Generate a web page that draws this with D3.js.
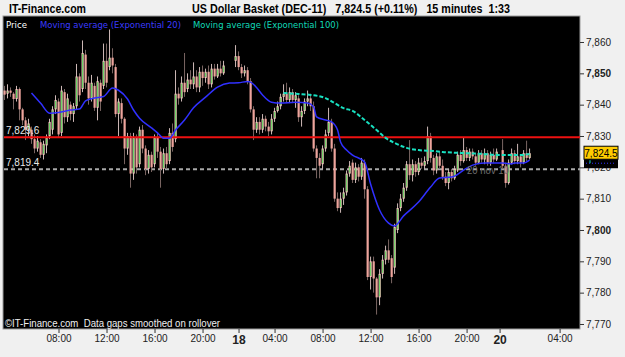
<!DOCTYPE html>
<html>
<head>
<meta charset="utf-8">
<script src="https://cdn.jsdelivr.net/npm/d3@7"></script>
<style>
  body { margin: 0; background: #f0f0f0; }
  svg { display: block; }
</style>
</head>
<body>
<svg id="chart" width="625" height="357"></svg>
<script>
// 15 minute bars, US Dollar Basket (DEC-11); null = no trading
const opens = [7844.5,7843.5,7844.5,7843.5,7841.8,7845,7838.5,7835,7832,7832,
  7829,7826,7828,7824,7827,7830,7832,7838.5,7841,7831,
  7844,7836,7840,7837,7839.5,7849,7845,7856,7847,7842,
  7846,7839,7847,7846,7854,7852,7855,7852,7837,7840.5,
  7835.5,7826,7830,7818,7829.5,7821,7832,7826,7819.5,7824,
  7821,7829.5,7825,7819.5,7824.5,7822,7831,7829,7843.5,7842,
  7847,7845,7848,7846.5,7849,7845.5,7850.5,7848.5,7850.5,7846.5,
  7851.5,7849,7851.5,7850,null,null,null,7854,7855.5,7852,
  7850,7851,7847.5,7838.5,7832,7834.5,7832,7835.5,7833,7831.5,
  7835.5,7838,7839.5,7842.5,7843.5,7841.5,7844,7841.5,7842,7836,
  7838,7841,7842,7839.5,7826,7823,7821,7826,7831,7834.5,
  7826,7810,7807,7810,7812,7818,7821.5,7816,7820,7817,
  7821.5,7813,7785,7790,7784.5,7778.5,7786,7790.5,7793.5,7791,
  7788,7800,7807,7810,7813.5,7821,7817.5,7821,7818.5,7821.5,
  7820.5,7822,7830,7823,7819,7823.5,7820.5,7817,7815,7818.5,
  7816.5,7819,7824,7822,7825.5,7823,7825,7823.5,7821.5,7824.5,
  7822.5,7824.5,7821.5,7824,7822.5,null,7825.5,7820.5,7815,7821.5,
  7824.5,7822,7823.5,7821.5,7824.5,7823];
const highs = [7846,7846.5,7845.5,7844,7846,7845.5,7839,7836,7835.5,7833,
  7830.5,7830,7829,7828.5,7830.5,7835.5,7839.5,7843,7842,7846,
  7845,7843.5,7841,7840.5,7853,7850,7860.5,7857.5,7849,7849.5,
  7847,7849,7848,7859.5,7859.5,7864,7858,7853,7842,7842,
  7836,7831,7831,7831,7830.5,7833,7833.5,7827,7825.5,7825,
  7830.5,7831,7826.5,7826,7826.5,7832.5,7834,7851,7845.5,7849,
  7856.5,7850,7851,7853.5,7851,7852,7852.5,7851.5,7852.5,7853,
  7853,7853,7854,7854,null,null,null,7859,7857,7853,
  7852.5,7852,7848.5,7839.5,7836,7836,7837,7836.5,7834.5,7837,
  7839,7841,7843.5,7846.5,7847,7845.5,7845,7844,7843,7839.5,
  7842,7844.5,7843.5,7841,7827,7824.5,7827,7832,7839,7835.5,
  7827.5,7812,7812,7813.5,7819,7822,7822.5,7821.5,7821,7823,
  7822.5,7814,7791.5,7791.5,7785,7787.5,7792,7795,7797,7792,
  7802,7808.5,7811.5,7815,7822,7828.7,7822.5,7822,7823,7823,
  7823.5,7833,7831,7824,7824.5,7825,7822.5,7818.5,7819.5,7819.5,
  7820.5,7825,7825.5,7829.5,7826.5,7826,7826,7824.5,7825.5,7825.5,
  7826,7825.5,7825,7826,7826,null,7829,7821.5,7822.5,7826,
  7825.5,7827.5,7824,7825.5,7828.5,7826];
const lows = [7841.5,7842,7842.5,7838.5,7841,7835,7833.5,7828.7,7830,7827.5,
  7824.5,7825,7823,7822.5,7824.5,7829,7830.5,7837,7829.5,7830,
  7834,7834.5,7835,7834.5,7838.5,7841,7844,7845,7840,7841,
  7838,7835,7838,7845,7845.5,7851,7850,7836,7830,7834,
  7821,7824,7813.5,7816,7818,7820,7824.5,7817.5,7818,7818.5,
  7820,7823,7813.5,7818,7819.5,7821,7825,7828,7840,7841,
  7842.5,7844,7845,7845,7844,7844,7846,7847,7845,7845.5,
  7848,7848.5,7849,7849.5,null,null,null,7852,7851,7848.5,
  7849,7846.5,7837.5,7828.7,7831,7830.5,7831,7831.5,7830,7830.5,
  7834.5,7837.5,7838.5,7841,7840.5,7840.5,7840.5,7839,7834.5,7833,
  7837,7839.5,7838,7825,7816.5,7816.5,7819.5,7825,7830,7825,
  7809,7806,7805.5,7808,7811,7817,7815,7815,7815.5,7816,
  7810,7784,7781,7780,7773,7776,7784.5,7789,7789.5,7783,
  7786,7799,7806,7809,7812.5,7816,7815.5,7817,7817.5,7819.5,
  7819.5,7821,7821.5,7817.5,7818,7819.5,7816,7814,7813,7815.5,
  7816,7818.5,7820.5,7821.5,7822,7822,7822.5,7820.5,7821,7821.5,
  7821,7820.5,7820.5,7821.5,7822,null,7819.5,7813.5,7814.5,7821,
  7821,7821,7820,7821,7822,7822.5];
const closes = [7843.2,7844.5,7843.8,7841.8,7845,7838.5,7835,7832,7834,7829,
  7826,7828.5,7824,7827.5,7829.5,7834.5,7838.5,7841.5,7830.5,7844.5,
  7836,7842,7837,7839.5,7849,7843,7856.5,7847,7842,7847,
  7839,7847.5,7841,7854,7847,7855,7852.5,7837,7841,7835.5,
  7826,7830,7818,7829.5,7820,7832,7826,7819.5,7824,7820,
  7829.5,7825,7819.5,7824.5,7821,7831,7826.5,7843.5,7842,7847,
  7844,7848,7846.5,7849,7845.5,7850.5,7848.5,7850.5,7846.5,7851.5,
  7849,7851.5,7850,7852.5,null,null,null,7855.5,7852,7850,
  7851,7847.5,7838.5,7832,7834.5,7832,7835.5,7833,7831.5,7835.5,
  7838,7839.5,7842.5,7843.5,7841.5,7844,7841.5,7843,7836,7838,
  7841,7842,7839.5,7826,7823,7820.5,7826,7830.5,7834.5,7826,
  7810,7807,7810,7812,7818,7820.5,7816,7820,7817,7821.5,
  7813,7785,7790,7784.5,7778.5,7786,7790.5,7793.5,7790.5,7785,
  7801,7807,7810,7813.5,7821,7817.5,7821,7818.5,7821.5,7820.5,
  7822,7830,7823,7819,7823.5,7820.5,7817,7815,7818.5,7816.5,
  7819.5,7824,7822,7825.5,7823,7825,7823.5,7821.5,7824.5,7822.5,
  7824.5,7821.5,7824,7822.5,7825,null,7820.5,7815,7821.5,7824.5,
  7822,7823.5,7821.5,7824.5,7823,7824.5];

// moving averages: [bar, value]
const ema20 = [[9,7843.7],[12,7840.5],[15,7837.3],[18,7837.5],[22,7838.3],[25,7838.6],
  [27,7841.2],[30,7842.1],[33,7842.6],[36,7845.3],[38,7844.6],[41,7841.8],[43,7838.3],
  [45,7835.7],[49,7832.6],[51,7831.0],[53,7829.3],[55,7829.3],[57,7831.9],[60,7835.1],
  [63,7839.0],[67,7842.4],[71,7845.6],[75,7846.9],[78,7847.0],[81,7847.4],[82,7847.2],
  [84,7845.5],[86,7843.1],[89,7840.8],[92,7840.5],[97,7840.8],[101,7840.5],[103,7839.3],
  [104,7836.1],[107,7835.1],[109,7834.5],[111,7831.9],[112,7828.1],[114,7825.5],
  [116,7823.9],[120,7821.7],[122,7814.7],[125,7806.4],[128,7802.2],[130,7801.3],
  [133,7804.5],[138,7808.9],[142,7813.7],[145,7816.6],[149,7816.9],[150,7817.2],
  [153,7819.1],[156,7820.7],[160,7821.4],[166,7821.4],[169,7821.1],[170,7821.4],
  [173,7821.4],[175,7822.3]];
const ema100 = [[93,7843.7],[98,7843.4],[102,7843.1],[107,7842.1],[110,7840.5],
  [113,7838.9],[116,7838.0],[120,7835.1],[124,7831.9],[127,7829.4],[130,7827.8],
  [134,7826.2],[138,7825.5],[143,7825.2],[146,7824.9],[152,7824.6],[159,7824.3],
  [165,7823.9],[172,7823.9],[175,7824.3]];

const timeTickBars = [18, 34, 50, 66, 78, 90, 106, 122, 138, 154, 165, 185];
const timeTickLabels = ["08:00","12:00","16:00","20:00","18","04:00","08:00","12:00","16:00","20:00","20","04:00"];
const priceTicks = [7770, 7780, 7790, 7800, 7810, 7820, 7830, 7840, 7850, 7860];
const boldPrices = [7800, 7850];

const redLevel = 7829.6;
const greyLevel = 7819.4;
const lastPrice = 7824.5;

const plot = {left: 3, right: 580, top: 16, bottom: 329};

let svg = d3.select("#chart");

let x = d3.scaleLinear().domain([-0.5, 191.8]).range([plot.left, plot.right]);
let y = d3.scaleLinear().domain([7768.4, 7868.3]).range([plot.bottom, plot.top]);

// header
svg.append("text")
  .attr("x", 9).attr("y", 13)
  .attr("textLength", 77).attr("lengthAdjust", "spacingAndGlyphs")
  .style("font", "bold 13px 'Liberation Sans Narrow', 'Liberation Sans', sans-serif")
  .text("IT-Finance.com");
svg.append("text")
  .attr("x", 192).attr("y", 13)
  .attr("textLength", 318).attr("lengthAdjust", "spacingAndGlyphs")
  .style("font", "bold 13px 'Liberation Sans Narrow', 'Liberation Sans', sans-serif")
  .attr("xml:space", "preserve")
  .text("US Dollar Basket (DEC-11)   7,824.5 (+0.11%)   15 minutes  1:33");

// plot background
svg.append("rect")
  .attr("x", plot.left).attr("y", plot.top)
  .attr("width", plot.right - plot.left).attr("height", plot.bottom - plot.top)
  .attr("fill", "#000")
  .attr("stroke", "#9a9a9a").attr("stroke-width", 1);

let g = svg.append("g");

// grey level line (behind candles)
g.append("line")
  .attr("x1", plot.left + 1).attr("x2", plot.right)
  .attr("y1", y(greyLevel)).attr("y2", y(greyLevel))
  .attr("stroke", "#a8a8a8").attr("stroke-width", 2)
  .attr("stroke-dasharray", "4,3");

// candles
let bars = d3.range(opens.length)
  .filter(i => opens[i] !== null)
  .map(i => ({i, o: opens[i], h: highs[i], l: lows[i], c: closes[i]}));

let candle = g.selectAll("g.candle")
  .data(bars)
  .enter().append("g")
  .attr("class", "candle");

candle.append("line")
  .attr("x1", d => x(d.i)).attr("x2", d => x(d.i))
  .attr("y1", d => y(d.h)).attr("y2", d => y(d.l))
  .attr("stroke", d => d.c >= d.o ? "#cdb8b6" : "#7a6663")
  .attr("stroke-width", 1);

candle.append("rect")
  .attr("x", d => x(d.i) - 1)
  .attr("width", 2.2)
  .attr("y", d => y(Math.max(d.o, d.c)))
  .attr("height", d => Math.max(1, Math.abs(y(d.o) - y(d.c))))
  .attr("fill", d => d.c >= d.o ? "#f6c4be" : "#eda49c");

candle.filter(d => d.c > d.o).append("rect")
  .attr("x", d => x(d.i) - 0.4)
  .attr("width", 1)
  .attr("y", d => y(d.c) + 1)
  .attr("height", d => Math.max(0, y(d.o) - y(d.c) - 2))
  .attr("fill", "#5ed85e");

// red level drawn over candles
g.append("line")
  .attr("x1", plot.left + 1).attr("x2", plot.right)
  .attr("y1", y(redLevel)).attr("y2", y(redLevel))
  .attr("stroke", "#ee1111").attr("stroke-width", 2);

// moving averages
let line = d3.line().x(d => x(d[0])).y(d => y(d[1])).curve(d3.curveMonotoneX);

g.append("path")
  .datum(ema100)
  .attr("d", line)
  .attr("fill", "none")
  .attr("stroke", "#18e0c0").attr("stroke-width", 2)
  .attr("stroke-dasharray", "4,2");

g.append("path")
  .datum(ema20)
  .attr("d", line)
  .attr("fill", "none")
  .attr("stroke", "#3030ff").attr("stroke-width", 1.5);

// texts on top of the marks
const legendFont = "8px 'DejaVu Sans', sans-serif";
[["Price", 6, 21, "#ffffff"],
 ["Moving average (Exponential 20)", 40, 141, "#3b3bff"],
 ["Moving average (Exponential 100)", 193, 146, "#10d8b8"]].forEach(([t, lx, len, c]) => {
  g.append("text").attr("x", lx).attr("y", 28)
    .attr("textLength", len).attr("lengthAdjust", "spacingAndGlyphs")
    .style("font", legendFont).attr("fill", c).text(t);
});

g.append("text")
  .attr("x", 6).attr("y", y(redLevel) - 3)
  .style("font", "10px 'Liberation Sans', sans-serif")
  .attr("fill", "#e8e8e8").text("7,829.6");
g.append("text")
  .attr("x", 6).attr("y", y(greyLevel) - 3)
  .style("font", "10px 'Liberation Sans', sans-serif")
  .attr("fill", "#e8e8e8").text("7,819.4");
g.append("text")
  .attr("x", 467).attr("y", y(greyLevel) + 5)
  .attr("textLength", 42).attr("lengthAdjust", "spacingAndGlyphs")
  .style("font", "11px 'Liberation Sans', sans-serif")
  .attr("fill", "#6e6e6e").text("20 nov 10");

// footer inside plot
g.append("text")
  .attr("x", 5).attr("y", 327)
  .attr("textLength", 215).attr("lengthAdjust", "spacingAndGlyphs")
  .style("font", "10px 'Liberation Sans', sans-serif")
  .attr("fill", "#f0f0f0").attr("xml:space", "preserve")
  .text("\u00a9IT-Finance.com  Data gaps smoothed on rollover");

// right price axis
let yAxis = svg.append("g")
  .attr("transform", `translate(${plot.right},0)`)
  .call(d3.axisRight(y).tickValues(priceTicks).tickSize(4).tickPadding(2)
    .tickFormat(d3.format(",")));
yAxis.select(".domain").remove();
yAxis.selectAll("line").attr("stroke", "#333");
yAxis.selectAll("text")
  .style("font", "10px 'Liberation Sans', sans-serif")
  .attr("fill", "#222")
  .style("font-weight", d => boldPrices.includes(d) ? "bold" : "normal");

// bottom time axis
let xAxis = svg.append("g")
  .attr("transform", `translate(0,${plot.bottom})`)
  .call(d3.axisBottom(x).tickValues(timeTickBars).tickSize(4).tickPadding(2)
    .tickFormat((d, i) => timeTickLabels[i]));
xAxis.select(".domain").remove();
xAxis.selectAll("line").attr("stroke", "#333");
xAxis.selectAll("text")
  .style("font", (d, i) => timeTickLabels[i].length < 3
    ? "bold 12px 'Liberation Sans', sans-serif"
    : "10px 'Liberation Sans', sans-serif")
  .attr("fill", "#222");

// last price tag
let tagY = y(lastPrice);
svg.append("rect")
  .attr("x", 584).attr("y", tagY - 7)
  .attr("width", 34).attr("height", 13)
  .attr("fill", "#ffcc00").attr("stroke", "#000").attr("stroke-width", 1);
svg.append("text")
  .attr("x", 601).attr("y", tagY + 4)
  .attr("text-anchor", "middle")
  .style("font", "10px 'Liberation Sans', sans-serif")
  .attr("fill", "#000").text("7,824.5");
svg.append("rect")
  .attr("x", 584).attr("y", tagY + 6)
  .attr("width", 34).attr("height", 9)
  .attr("fill", "#000");
svg.append("line")
  .attr("x1", 586).attr("x2", 616)
  .attr("y1", tagY + 10).attr("y2", tagY + 10)
  .attr("stroke", "#3030ff").attr("stroke-width", 1)
  .attr("stroke-dasharray", "1,2");
svg.append("line")
  .attr("x1", 590).attr("x2", 590)
  .attr("y1", tagY + 7).attr("y2", tagY + 10)
  .attr("stroke", "#18e0c0").attr("stroke-width", 1);
</script>
</body>
</html>
